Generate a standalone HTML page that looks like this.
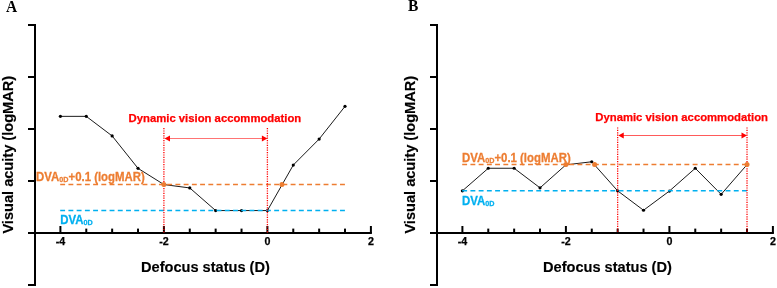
<!DOCTYPE html>
<html><head><meta charset="utf-8"><style>
html,body{margin:0;padding:0;background:#fff;}
svg{display:block;will-change:transform;}
text{font-family:"Liberation Sans",sans-serif;font-weight:bold;}
.lt{font-family:"Liberation Serif",serif;font-size:15.5px;font-weight:bold;}
.ax{font-size:14.6px;fill:#000;stroke:#000;stroke-width:0.15px;}
.tk{font-size:10.7px;fill:#000;stroke:#000;stroke-width:0.25px;}
.dyn{font-size:11.3px;fill:#FF0000;stroke:#FF0000;stroke-width:0.25px;}
.lab{font-size:11.4px;stroke-width:0.25px;}
.sub{font-size:7.2px;}
</style></head>
<body><svg width="777" height="288" viewBox="0 0 777 288">
<rect width="777" height="288" fill="#fff"/>
<polyline points="60.40,116.35 86.28,116.35 112.15,135.95 138.03,168.35 163.90,184.55 189.78,187.95 215.65,210.55 241.53,210.55 267.40,210.55 293.27,165.05 319.15,139.05 345.02,106.35" fill="none" stroke="#1a1a1a" stroke-width="1.0"/>
<circle cx="60.40" cy="116.35" r="1.6" fill="#000"/>
<circle cx="86.28" cy="116.35" r="1.6" fill="#000"/>
<circle cx="112.15" cy="135.95" r="1.6" fill="#000"/>
<circle cx="138.03" cy="168.35" r="1.6" fill="#000"/>
<circle cx="163.90" cy="184.55" r="1.6" fill="#000"/>
<circle cx="189.78" cy="187.95" r="1.6" fill="#000"/>
<circle cx="215.65" cy="210.55" r="1.6" fill="#000"/>
<circle cx="241.53" cy="210.55" r="1.6" fill="#000"/>
<circle cx="267.40" cy="210.55" r="1.6" fill="#000"/>
<circle cx="293.27" cy="165.05" r="1.6" fill="#000"/>
<circle cx="319.15" cy="139.05" r="1.6" fill="#000"/>
<circle cx="345.02" cy="106.35" r="1.6" fill="#000"/>
<line x1="60.20" y1="184.4" x2="345.12" y2="184.4" stroke="#ED7D31" stroke-width="1.5" stroke-dasharray="4.9 3.33"/>
<line x1="60.20" y1="210.4" x2="345.12" y2="210.4" stroke="#00B0F0" stroke-width="1.5" stroke-dasharray="4.9 3.33"/>
<line x1="35" y1="24" x2="35" y2="286" stroke="#000" stroke-width="2.0"/>
<line x1="28" y1="25" x2="35" y2="25" stroke="#000" stroke-width="2.0"/>
<line x1="28" y1="77" x2="35" y2="77" stroke="#000" stroke-width="2.0"/>
<line x1="28" y1="129" x2="35" y2="129" stroke="#000" stroke-width="2.0"/>
<line x1="28" y1="181" x2="35" y2="181" stroke="#000" stroke-width="2.0"/>
<line x1="28" y1="285" x2="35" y2="285" stroke="#000" stroke-width="2.0"/>
<line x1="28" y1="233" x2="371.90" y2="233" stroke="#000" stroke-width="2.0"/>
<line x1="60.40" y1="226" x2="60.40" y2="233" stroke="#000" stroke-width="2.0"/>
<line x1="86.28" y1="228.6" x2="86.28" y2="233" stroke="#000" stroke-width="2.0"/>
<line x1="112.15" y1="228.6" x2="112.15" y2="233" stroke="#000" stroke-width="2.0"/>
<line x1="138.03" y1="228.6" x2="138.03" y2="233" stroke="#000" stroke-width="2.0"/>
<line x1="163.90" y1="226" x2="163.90" y2="233" stroke="#000" stroke-width="2.0"/>
<line x1="189.78" y1="228.6" x2="189.78" y2="233" stroke="#000" stroke-width="2.0"/>
<line x1="215.65" y1="228.6" x2="215.65" y2="233" stroke="#000" stroke-width="2.0"/>
<line x1="241.53" y1="228.6" x2="241.53" y2="233" stroke="#000" stroke-width="2.0"/>
<line x1="267.40" y1="226" x2="267.40" y2="233" stroke="#000" stroke-width="2.0"/>
<line x1="293.27" y1="228.6" x2="293.27" y2="233" stroke="#000" stroke-width="2.0"/>
<line x1="319.15" y1="228.6" x2="319.15" y2="233" stroke="#000" stroke-width="2.0"/>
<line x1="345.02" y1="228.6" x2="345.02" y2="233" stroke="#000" stroke-width="2.0"/>
<line x1="370.90" y1="226" x2="370.90" y2="233" stroke="#000" stroke-width="2.0"/>
<text x="60.40" y="245" class="tk" text-anchor="middle">-4</text>
<text x="163.90" y="245" class="tk" text-anchor="middle">-2</text>
<text x="267.40" y="245" class="tk" text-anchor="middle">0</text>
<text x="370.90" y="245" class="tk" text-anchor="middle">2</text>
<line x1="163.90" y1="128.0" x2="163.90" y2="233" stroke="#FF0000" stroke-width="1.3" stroke-dasharray="1.2 1.2"/>
<line x1="267.40" y1="128.0" x2="267.40" y2="233" stroke="#FF0000" stroke-width="1.3" stroke-dasharray="1.2 1.2"/>
<line x1="167.90" y1="138.5" x2="263.40" y2="138.5" stroke="#FF0000" stroke-width="0.55"/>
<path d="M164.50,138.5 L170.00,135.5 L170.00,141.5Z" fill="#FF0000"/>
<path d="M267.40,138.5 L261.90,135.5 L261.90,141.5Z" fill="#FF0000"/>
<circle cx="163.90" cy="184.4" r="2.5" fill="#ED7D31"/>
<circle cx="281.90" cy="184.4" r="2.5" fill="#ED7D31"/>
<text transform="translate(6.0,11.6) scale(1,1.14)" class="lt">A</text>
<text transform="translate(13.4,233.6) rotate(-90) scale(1,1.05)" class="ax">Visual acuity (logMAR)</text>
<text transform="translate(141.0,271.8) scale(1,1.05)" class="ax">Defocus status (D)</text>
<text transform="translate(128.6,121.7) scale(1,1.0)" class="dyn">Dynamic vision accommodation</text>
<text transform="translate(36.1,180.8) scale(1,1.07)" class="lab" fill="#ED7D31" stroke="#ED7D31">DVA<tspan class="sub" dy="1">0D</tspan><tspan dy="-1">+0.1 (logMAR)</tspan></text>
<text transform="translate(60.300000000000004,224.0) scale(1,1.07)" class="lab" fill="#00B0F0" stroke="#00B0F0">DVA<tspan class="sub" dy="1">0D</tspan></text>
<polyline points="462.40,190.85 488.27,168.25 514.15,168.25 540.02,187.85 565.90,164.85 591.77,161.75 617.65,190.85 643.52,210.25 669.40,191.05 695.27,168.25 721.15,194.35 747.02,164.65" fill="none" stroke="#1a1a1a" stroke-width="1.0"/>
<circle cx="462.40" cy="190.85" r="1.6" fill="#000"/>
<circle cx="488.27" cy="168.25" r="1.6" fill="#000"/>
<circle cx="514.15" cy="168.25" r="1.6" fill="#000"/>
<circle cx="540.02" cy="187.85" r="1.6" fill="#000"/>
<circle cx="565.90" cy="164.85" r="1.6" fill="#000"/>
<circle cx="591.77" cy="161.75" r="1.6" fill="#000"/>
<circle cx="617.65" cy="190.85" r="1.6" fill="#000"/>
<circle cx="643.52" cy="210.25" r="1.6" fill="#000"/>
<circle cx="669.40" cy="191.05" r="1.6" fill="#000"/>
<circle cx="695.27" cy="168.25" r="1.6" fill="#000"/>
<circle cx="721.15" cy="194.35" r="1.6" fill="#000"/>
<circle cx="747.02" cy="164.65" r="1.6" fill="#000"/>
<line x1="462.20" y1="164.6" x2="747.12" y2="164.6" stroke="#ED7D31" stroke-width="1.5" stroke-dasharray="4.9 3.33"/>
<line x1="462.20" y1="190.7" x2="747.12" y2="190.7" stroke="#00B0F0" stroke-width="1.5" stroke-dasharray="4.9 3.33"/>
<line x1="437" y1="24" x2="437" y2="286" stroke="#000" stroke-width="2.0"/>
<line x1="430" y1="25" x2="437" y2="25" stroke="#000" stroke-width="2.0"/>
<line x1="430" y1="77" x2="437" y2="77" stroke="#000" stroke-width="2.0"/>
<line x1="430" y1="129" x2="437" y2="129" stroke="#000" stroke-width="2.0"/>
<line x1="430" y1="181" x2="437" y2="181" stroke="#000" stroke-width="2.0"/>
<line x1="430" y1="285" x2="437" y2="285" stroke="#000" stroke-width="2.0"/>
<line x1="430" y1="233" x2="773.90" y2="233" stroke="#000" stroke-width="2.0"/>
<line x1="462.40" y1="226" x2="462.40" y2="233" stroke="#000" stroke-width="2.0"/>
<line x1="488.27" y1="228.6" x2="488.27" y2="233" stroke="#000" stroke-width="2.0"/>
<line x1="514.15" y1="228.6" x2="514.15" y2="233" stroke="#000" stroke-width="2.0"/>
<line x1="540.02" y1="228.6" x2="540.02" y2="233" stroke="#000" stroke-width="2.0"/>
<line x1="565.90" y1="226" x2="565.90" y2="233" stroke="#000" stroke-width="2.0"/>
<line x1="591.77" y1="228.6" x2="591.77" y2="233" stroke="#000" stroke-width="2.0"/>
<line x1="617.65" y1="228.6" x2="617.65" y2="233" stroke="#000" stroke-width="2.0"/>
<line x1="643.52" y1="228.6" x2="643.52" y2="233" stroke="#000" stroke-width="2.0"/>
<line x1="669.40" y1="226" x2="669.40" y2="233" stroke="#000" stroke-width="2.0"/>
<line x1="695.27" y1="228.6" x2="695.27" y2="233" stroke="#000" stroke-width="2.0"/>
<line x1="721.15" y1="228.6" x2="721.15" y2="233" stroke="#000" stroke-width="2.0"/>
<line x1="747.02" y1="228.6" x2="747.02" y2="233" stroke="#000" stroke-width="2.0"/>
<line x1="772.90" y1="226" x2="772.90" y2="233" stroke="#000" stroke-width="2.0"/>
<text x="462.40" y="245" class="tk" text-anchor="middle">-4</text>
<text x="565.90" y="245" class="tk" text-anchor="middle">-2</text>
<text x="669.40" y="245" class="tk" text-anchor="middle">0</text>
<text x="772.90" y="245" class="tk" text-anchor="middle">2</text>
<line x1="617.65" y1="127.4" x2="617.65" y2="233" stroke="#FF0000" stroke-width="1.3" stroke-dasharray="1.2 1.2"/>
<line x1="747.02" y1="127.4" x2="747.02" y2="233" stroke="#FF0000" stroke-width="1.3" stroke-dasharray="1.2 1.2"/>
<line x1="621.65" y1="135.5" x2="743.02" y2="135.5" stroke="#FF0000" stroke-width="0.65"/>
<path d="M618.25,135.5 L623.75,132.5 L623.75,138.5Z" fill="#FF0000"/>
<path d="M747.02,135.5 L741.52,132.5 L741.52,138.5Z" fill="#FF0000"/>
<circle cx="565.90" cy="164.6" r="2.5" fill="#ED7D31"/>
<circle cx="594.60" cy="164.6" r="2.5" fill="#ED7D31"/>
<circle cx="747.02" cy="164.5" r="2.5" fill="#ED7D31"/>
<text transform="translate(408.1,11.4) scale(1,1.14)" class="lt">B</text>
<text transform="translate(415.4,233.6) rotate(-90) scale(1,1.05)" class="ax">Visual acuity (logMAR)</text>
<text transform="translate(543.0,271.8) scale(1,1.05)" class="ax">Defocus status (D)</text>
<text transform="translate(595.3000000000001,120.8) scale(1,1.0)" class="dyn">Dynamic vision accommodation</text>
<text transform="translate(462.0,161.7) scale(1,1.07)" class="lab" fill="#ED7D31" stroke="#ED7D31">DVA<tspan class="sub" dy="1">0D</tspan><tspan dy="-1">+0.1 (logMAR)</tspan></text>
<text transform="translate(462.09999999999997,204.5) scale(1,1.07)" class="lab" fill="#00B0F0" stroke="#00B0F0">DVA<tspan class="sub" dy="1">0D</tspan></text>
</svg></body></html>
